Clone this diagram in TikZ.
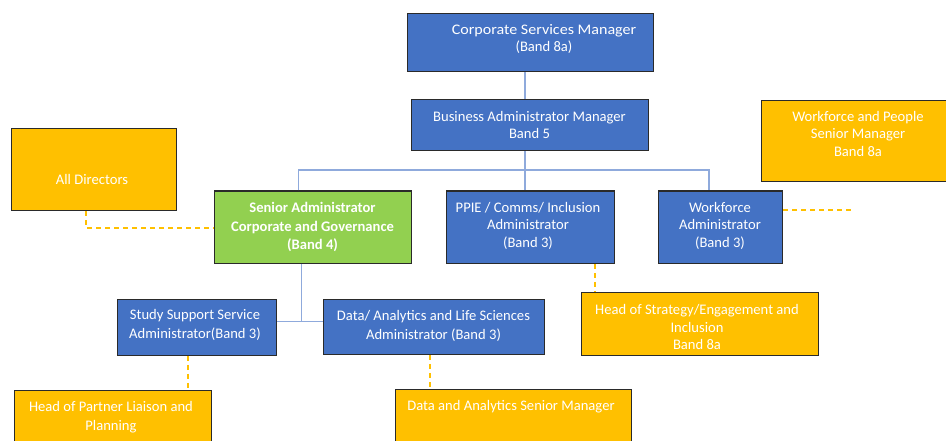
\documentclass[tikz,border=0pt]{standalone}
\usepackage{fontspec}
\setmainfont{Carlito}
\definecolor{roleblue}{HTML}{4472C4}
\definecolor{rolegreen}{HTML}{92D050}
\definecolor{roleamber}{HTML}{FFC000}
\definecolor{edgeline}{HTML}{2A2A2A}
\definecolor{reportline}{HTML}{8FAADC}
\begin{document}
\begin{tikzpicture}[x=1pt,y=-1pt,
  box/.style={draw=edgeline, line width=1.3pt, inner sep=0pt, anchor=north west},
  bluebox/.style={box, fill=roleblue},
  greenbox/.style={box, fill=rolegreen},
  amberbox/.style={box, fill=roleamber},
  lbl/.style={text=white, align=center, inner sep=0pt,
    font=\fontsize{14.6}{#1}\selectfont},
  lbl/.default=17.5,
  link/.style={draw=reportline, line width=1.4pt},
  dotted link/.style={draw=roleamber, line width=1.2pt, dash pattern=on 5pt off 4pt},
]
\useasboundingbox (0,0) rectangle (946,441);
\clip (0,0) rectangle (946,441);

% ---- boxes (top-left corner, size) ----
\node[bluebox, minimum width=246pt, minimum height=58pt] (csm) at (407,13) {};
\node[bluebox, minimum width=237pt, minimum height=51pt] (bam) at (411,99) {};
\node[amberbox, minimum width=165pt, minimum height=82pt] (dirs) at (11,128) {};
\node[amberbox, minimum width=200pt, minimum height=81pt] (wsm) at (761,100) {};
\node[greenbox, minimum width=197pt, minimum height=72pt] (sa) at (214,190.5) {};
\node[bluebox, minimum width=168pt, minimum height=72pt] (ppie) at (446,190.5) {};
\node[bluebox, minimum width=124pt, minimum height=72pt] (wa) at (658,190.5) {};
\node[amberbox, minimum width=237pt, minimum height=63pt] (hos) at (581,292) {};
\node[bluebox, minimum width=159pt, minimum height=56pt] (ssa) at (117,298.5) {};
\node[bluebox, minimum width=221pt, minimum height=55pt] (daa) at (323,298.5) {};
\node[amberbox, minimum width=197pt, minimum height=70pt] (hpl) at (13.5,390) {};
\node[amberbox, minimum width=236pt, minimum height=70pt] (dsm) at (395,388.5) {};

% ---- texts ----
\node[lbl] (csm-t) at (544,39) {\scalebox{1.1}[1]{Corporate Services Manager}\\(Band 8a)};
\node[lbl] (bam-t) at (529.5,125) {Business Administrator Manager\\Band 5};
\node[lbl] (dirs-t) at (92,179) {All Directors};
\node[lbl] (wsm-t) at (858,133.5) {Workforce and People\\Senior Manager\\Band 8a};
\node[lbl=18.5, font=\fontsize{14.6}{18.5}\selectfont\bfseries] (sa-t) at (312.5,227)
  {Senior Administrator\\Corporate and Governance\\(Band 4)};
\node[lbl] (ppie-t) at (528,225.5) {PPIE / Comms/ Inclusion\\Administrator\\(Band 3)};
\node[lbl] (wa-t) at (720,225.5) {Workforce\\Administrator\\(Band 3)};
\node[lbl] (hos-t) at (697,327) {Head of Strategy/Engagement and\\Inclusion\\Band 8a};
\node[lbl=19] (ssa-t) at (195,325) {Study Support Service\\Administrator(Band 3)};
\node[lbl=18.6] (daa-t) at (433.5,326) {Data/ Analytics and Life Sciences\\Administrator (Band 3)};
\node[lbl=19.3] (hpl-t) at (111,417.5) {Head of Partner Liaison and\\Planning};
\node[lbl] (dsm-t) at (511,406.5) {Data and Analytics Senior Manager};

% ---- reporting lines ----
\coordinate (top) at (525,85);
\coordinate (bus) at (525,170);
\coordinate (busL) at (298.5,170);
\coordinate (busR) at (709,170);
\coordinate (sub) at (301.5,321.5);
\draw[link] (csm.south -| top) -- (bam.north -| top);
\draw[link] (bam.south -| bus) -- (bus);
\draw[link] (sa.north -| busL) -- (busL) -- (busR) -- (wa.north -| busR);
\draw[link] (bus) -- (ppie.north -| bus);
\draw[link] (sa.south -| sub) -- (sub);
\draw[link] (ssa.east |- sub) -- (daa.west |- sub);

% ---- dotted (liaison) lines ----
\coordinate (dirsBend) at (86,228);
\coordinate (wfEnd) at (853,210);
\coordinate (hosX) at (595,280);
\coordinate (hplX) at (188,370);
\coordinate (dsmX) at (430,370);
\draw[dotted link] (dirs.south -| dirsBend) -- (dirsBend) -- (sa.west |- dirsBend);
\draw[dotted link] (wa.east |- wfEnd) -- (wfEnd);
\draw[dotted link] (ppie.south -| hosX) -- (hos.north -| hosX);
\draw[dotted link] (ssa.south -| hplX) -- (hpl.north -| hplX);
\draw[dotted link] (daa.south -| dsmX) -- (dsm.north -| dsmX);
\end{tikzpicture}
\end{document}
